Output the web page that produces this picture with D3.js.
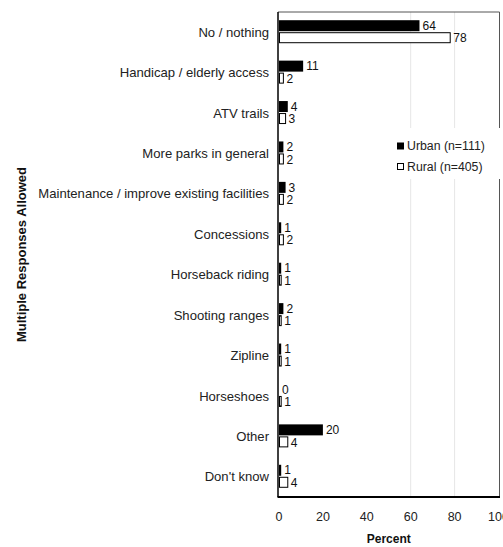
<!DOCTYPE html>
<html><head><meta charset="utf-8">
<script src="https://cdn.jsdelivr.net/npm/d3@7/dist/d3.min.js"></script>
<style>body{margin:0;background:#fff;} svg{display:block;font-family:"Liberation Sans",Arial,sans-serif;}</style>
</head><body>
<script>
const categories = ["No / nothing","Handicap / elderly access","ATV trails","More parks in general","Maintenance / improve existing facilities","Concessions","Horseback riding","Shooting ranges","Zipline","Horseshoes","Other","Don't know"];
const urban = [64,11,4,2,3,1,1,2,1,0,20,1];
const rural = [78,2,3,2,2,2,1,1,1,1,4,4];
const xTicks = [0,20,40,60,80,100];
const seriesNames = ["Urban (n=111)","Rural (n=405)"];

(function(){
const W=503,H=547;
const svg=d3.select("body").append("svg").attr("width",W).attr("height",H);
const pL=279,pR=498.5,pT=12,pB=497;
const x=d3.scaleLinear().domain([0,100]).range([pL,pR]);
const y=d3.scaleBand().domain(categories).range([pT,pB]);

// faint gridlines
svg.selectAll("line.grid").data([60,80]).enter().append("line")
  .attr("x1",d=>x(d)).attr("x2",d=>x(d)).attr("y1",pT).attr("y2",pB)
  .attr("stroke","#e6e6e6").attr("stroke-width",1);

// frame
svg.append("line").attr("x1",pL-1).attr("x2",pR+1).attr("y1",pT).attr("y2",pT).attr("stroke","#555").attr("stroke-width",1);
svg.append("line").attr("x1",pR+1).attr("x2",pR+1).attr("y1",pT).attr("y2",pB).attr("stroke","#555").attr("stroke-width",1);

const bh=11;
const g=svg.append("g");
categories.forEach((c,i)=>{
  const cy=y(c)+y.bandwidth()/2;
  g.append("rect").attr("x",x(0)).attr("y",cy-bh-1).attr("width",x(urban[i])-x(0)).attr("height",bh).attr("fill","#000");
  g.append("rect").attr("x",x(0)+0.5).attr("y",cy+0.5).attr("width",Math.max(0,x(rural[i])-x(0)-0.5)).attr("height",bh-1).attr("fill","#fff").attr("stroke","#000").attr("stroke-width",1);
  g.append("text").attr("x",x(urban[i])+3).attr("y",cy-bh/2-1).attr("dy","0.35em").attr("font-size",12).attr("fill","#111").text(urban[i]);
  g.append("text").attr("x",x(rural[i])+3).attr("y",cy+bh/2+0.5).attr("dy","0.35em").attr("font-size",12).attr("fill","#111").text(rural[i]);
  svg.append("text").attr("x",269).attr("y",cy).attr("dy","0.35em").attr("text-anchor","end").attr("font-size",13.1).attr("fill","#222").text(c);
});

// axes lines
svg.append("line").attr("x1",pL-1).attr("x2",pL-1).attr("y1",pT).attr("y2",pB).attr("stroke","#000").attr("stroke-width",1.5);
svg.append("line").attr("x1",pL-1.5).attr("x2",pR+1.5).attr("y1",pB).attr("y2",pB).attr("stroke","#000").attr("stroke-width",2);

// x tick labels
svg.selectAll("text.xt").data(xTicks).enter().append("text")
  .attr("x",d=>x(d)).attr("y",517).attr("dy","0.35em").attr("text-anchor","middle")
  .attr("font-size",12.5).attr("fill","#222").text(d=>d);
svg.append("text").attr("x",(pL+pR)/2).attr("y",539).attr("dy","0.35em").attr("text-anchor","middle")
  .attr("font-size",12).attr("font-weight","bold").attr("fill","#111").text("Percent");
svg.append("text").attr("transform",`translate(21,${(pT+pB)/2}) rotate(-90)`).attr("dy","0.35em")
  .attr("text-anchor","middle").attr("font-size",13).attr("font-weight","bold").attr("fill","#111").text("Multiple Responses Allowed");

// legend
const lg=svg.append("g");
lg.append("rect").attr("x",390).attr("y",128).attr("width",113).attr("height",51).attr("fill","#fff");
const ly=[146,167];
seriesNames.forEach((s,i)=>{
  lg.append("rect").attr("x",i===0?397:397.5).attr("y",ly[i]-3.5).attr("width",i===0?7:6).attr("height",i===0?7:6)
    .attr("fill",i===0?"#000":"#fff").attr("stroke","#000").attr("stroke-width",i===0?0:1);
  lg.append("text").attr("x",407).attr("y",ly[i]).attr("dy","0.35em").attr("font-size",12.3).attr("fill","#222").text(s);
});
})();
</script>
</body></html>
